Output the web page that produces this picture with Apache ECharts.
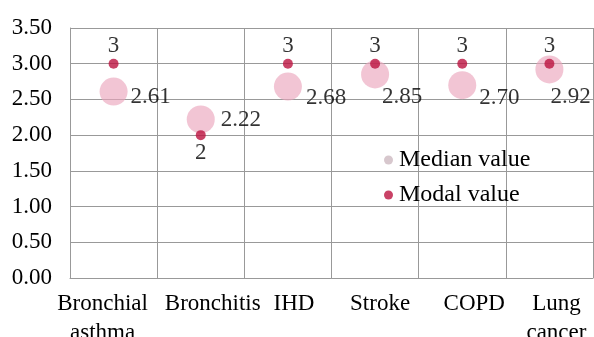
<!DOCTYPE html>
<html><head><meta charset="utf-8">
<script src="https://cdn.jsdelivr.net/npm/echarts@6/dist/echarts.min.js"></script>
<style>html,body{margin:0;padding:0;background:#fff}#c{width:594px;height:337px}</style>
</head><body><div id="c"></div>
<script>
var categories = ['Bronchial\nasthma', 'Bronchitis', 'IHD', 'Stroke', 'COPD', 'Lung\ncancer'];
var medianValues = [2.61, 2.22, 2.68, 2.85, 2.70, 2.92];
var modalValues = [3, 2, 3, 3, 3, 3];
var yTicks = [0, 0.5, 1, 1.5, 2, 2.5, 3, 3.5];

// label placement tweaks (style only)
var medianLabelOffsets = [[-2, 5], [1, 1], [-1, 11], [-12, 23], [-2, 13], [-18, 28]];
var categoryLabelShift = [-11, 12, 6, 5, 12, 7];

var font = 'Liberation Serif, Times New Roman, serif';
var txt = '#000';
var chart = echarts.init(document.getElementById('c'), null, {renderer: 'canvas'});

var rich = {};
categoryLabelShift.forEach(function (s, i) {
  rich['c' + i] = {
    fontFamily: font, fontSize: 23, color: txt, lineHeight: 29,
    padding: s < 0 ? [0, -2 * s, 0, 0] : [0, 0, 0, 2 * s]
  };
});

chart.setOption({
  animation: false,
  textStyle: {fontFamily: font},
  grid: {left: 70, right: 1, top: 28, bottom: 59, containLabel: false, outerBoundsMode: 'none'},
  legend: {
    orient: 'vertical', left: 379, top: 143, itemGap: 11,
    itemWidth: 9, itemHeight: 9,
    textStyle: {fontFamily: font, fontSize: 24, color: txt, lineHeight: 24, padding: [0, 0, 0, 1]},
    data: [
      {name: 'Median value', icon: 'circle', itemStyle: {color: '#cdb9c1'}},
      {name: 'Modal value', icon: 'circle', itemStyle: {color: '#bb1340'}}
    ]
  },
  xAxis: {
    type: 'category', data: categories, boundaryGap: true,
    axisLine: {show: true, lineStyle: {color: '#999', width: 1}},
    axisTick: {show: false},
    axisLabel: {
      margin: 11, interval: 0,
      formatter: function (v, i) {
        return v.split('\n').map(function (line) { return '{c' + i + '|' + line + '}'; }).join('\n');
      },
      rich: rich
    },
    splitLine: {show: true, interval: 0, lineStyle: {color: '#999', width: 1}}
  },
  yAxis: {
    type: 'value', min: yTicks[0], max: yTicks[yTicks.length - 1], interval: 0.5,
    axisLine: {show: true, lineStyle: {color: '#999'}},
    axisTick: {show: false},
    axisLabel: {fontFamily: font, fontSize: 23, color: txt, margin: 18,
      formatter: function (v) { return v.toFixed(2); }},
    splitLine: {show: true, lineStyle: {color: '#999', width: 1}}
  },
  series: [
    {
      name: 'Median value', type: 'scatter', symbolSize: 28,
      itemStyle: {color: 'rgba(235,165,188,0.8)'},
      data: medianValues.map(function (v, i) {
        return {value: v, label: {offset: medianLabelOffsets[i]}};
      }),
      label: {show: true, position: 'right', distance: 5, fontFamily: font, fontSize: 23, color: txt, lineHeight: 23,
        formatter: function (p) { return p.value.toFixed(2); }},
      z: 2
    },
    {
      name: 'Modal value', type: 'scatter', symbolSize: 10,
      itemStyle: {color: '#bb1340'},
      data: modalValues.map(function (v, i) {
        return {value: v, label: i === 1 ? {position: 'bottom', distance: 1} : {position: 'top', distance: 1}};
      }),
      label: {show: true, fontFamily: font, fontSize: 23, color: txt, lineHeight: 23,
        formatter: function (p) { return String(p.value); }},
      z: 3
    }
  ]
});
</script></body></html>
